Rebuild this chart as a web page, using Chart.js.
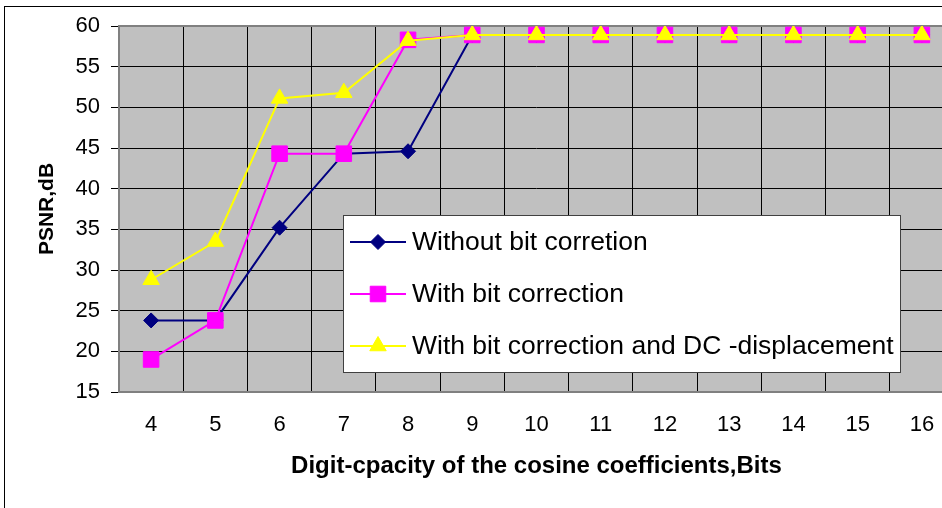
<!DOCTYPE html>
<html>
<head>
<meta charset="utf-8">
<script src="https://cdn.jsdelivr.net/npm/chart.js@4.4.0/dist/chart.umd.min.js"></script>
<style>
    html, body { margin: 0; padding: 0; background: #fff; overflow: hidden; }
    #wrap { position: relative; width: 942px; height: 508px; overflow: hidden; }
    #frame { position: absolute; left: 4px; top: 6px; width: 1000px; height: 600px;
             border-left: 1px solid #000; border-top: 1px solid #000; }
    #psnr { position: absolute; left: 0; top: 0; }
</style>
</head>
<body>
<div id="wrap">
    <div id="frame"></div>
    <canvas id="psnr" width="966" height="520"></canvas>
</div>
<script>
    "use strict";

    // Data
    var bits = ["4", "5", "6", "7", "8", "9", "10", "11", "12", "13", "14", "15", "16"];
    var withoutCorrection = [23.8, 23.8, 35.2, 44.3, 44.6, 58.9, 58.9, 58.9, 58.9, 58.9, 58.9, 58.9, 58.9];
    var withCorrection = [19.0, 23.8, 44.3, 44.3, 58.3, 58.9, 58.9, 58.9, 58.9, 58.9, 58.9, 58.9, 58.9];
    var withCorrectionDC = [28.8, 33.5, 51.1, 51.8, 58.2, 58.9, 58.9, 58.9, 58.9, 58.9, 58.9, 58.9, 58.9];
    var seriesNames = ["Without bit corretion", "With bit correction", "With bit correction and DC -displacement"];

    var FONT = "'Liberation Sans', Arial, sans-serif";

    // Gray plot area + plot border
    var plotArea = {
        id: "plotArea",
        beforeDraw: function (chart) {
            var a = chart.chartArea, ctx = chart.ctx;
            ctx.save();
            ctx.fillStyle = "#C0C0C0";
            ctx.fillRect(a.left, a.top, a.right - a.left, a.bottom - a.top);
            ctx.restore();
        },
        beforeDatasetsDraw: function (chart) {
            var a = chart.chartArea, ctx = chart.ctx;
            ctx.save();
            ctx.strokeStyle = "#808080";
            ctx.lineWidth = 2;
            ctx.strokeRect(a.left, a.top, a.right - a.left, a.bottom - a.top);
            ctx.restore();
        }
    };

    // Legend box inside the plot
    var boxLegend = {
        id: "boxLegend",
        afterDraw: function (chart) {
            var ctx = chart.ctx;
            var x0 = 343, y0 = 215, x1 = 900, y1 = 372;
            var rows = [242, 294, 346];
            ctx.save();
            ctx.fillStyle = "#fff";
            ctx.fillRect(x0, y0, x1 - x0, y1 - y0);
            ctx.strokeStyle = "#404040";
            ctx.lineWidth = 1;
            ctx.strokeRect(x0 + 0.5, y0 + 0.5, x1 - x0, y1 - y0);
            chart.data.datasets.forEach(function (ds, i) {
                var y = rows[i];
                ctx.strokeStyle = ds.borderColor;
                ctx.lineWidth = 2;
                ctx.beginPath();
                ctx.moveTo(350, y);
                ctx.lineTo(406, y);
                ctx.stroke();
                ctx.fillStyle = ds.pointBackgroundColor;
                ctx.strokeStyle = ds.pointBorderColor;
                ctx.lineWidth = 1;
                Chart.helpers.drawPoint(ctx, {pointStyle: ds.pointStyle, radius: ds.pointRadius, borderWidth: 1, rotation: 0}, 378, y);
                ctx.fillStyle = "#000";
                ctx.font = "26.5px " + FONT;
                ctx.textBaseline = "middle";
                ctx.fillText(ds.label, 412, y + 1);
            });
            ctx.restore();
        }
    };

    var ctx1 = document.getElementById("psnr").getContext("2d");
    var myChart1 = new Chart(ctx1, {
        type: "line",
        data: {
            labels: bits,
            datasets: [{
                    label: seriesNames[0],
                    data: withoutCorrection,
                    borderColor: "#000080",
                    pointBackgroundColor: "#000080",
                    pointBorderColor: "#000080",
                    pointStyle: "rectRot",
                    pointRadius: 7.5,
                    order: 2
                },
                {
                    label: seriesNames[1],
                    data: withCorrection,
                    borderColor: "#FF00FF",
                    pointBackgroundColor: "#FF00FF",
                    pointBorderColor: "#FF00FF",
                    pointStyle: "rect",
                    pointRadius: 11,
                    order: 1
                },
                {
                    label: seriesNames[2],
                    data: withCorrectionDC,
                    borderColor: "#FFFF00",
                    pointBackgroundColor: "#FFFF00",
                    pointBorderColor: "#FFFF00",
                    pointStyle: "triangle",
                    pointRadius: 9.5,
                    order: 0
                }
            ]
        },
        options: {
            responsive: false,
            animation: false,
            devicePixelRatio: 1,
            layout: {padding: {left: 0, top: 26, right: 0, bottom: 0}},
            elements: {
                line: {borderWidth: 2, tension: 0, fill: false},
                point: {borderWidth: 1, hoverRadius: 8}
            },
            plugins: {
                legend: {display: false},
                tooltip: {enabled: false}
            },
            scales: {
                x: {
                    offset: true,
                    grid: {offset: true, color: "#000", lineWidth: 1, drawTicks: false},
                    border: {display: false},
                    ticks: {color: "#000", padding: 20, font: {family: FONT, size: 22}, maxRotation: 0},
                    title: {
                        display: true,
                        text: "Digit-cpacity of the cosine coefficients,Bits",
                        color: "#000",
                        font: {family: FONT, size: 24, weight: "bold"},
                        padding: {top: 0, bottom: 39}
                    },
                    afterFit: function (scale) { scale.height = 128; }
                },
                y: {
                    min: 15,
                    max: 60,
                    grid: {color: "#000", lineWidth: 1, tickLength: 8},
                    border: {display: false},
                    ticks: {stepSize: 5, color: "#000", padding: 11, font: {family: FONT, size: 22}},
                    title: {
                        display: true,
                        text: "PSNR,dB",
                        color: "#000",
                        font: {family: FONT, size: 21, weight: "bold"},
                        padding: {top: 35, bottom: 0}
                    },
                    afterFit: function (scale) { scale.width = 119; }
                }
            }
        },
        plugins: [plotArea, boxLegend]
    });
</script>
</body>
</html>
